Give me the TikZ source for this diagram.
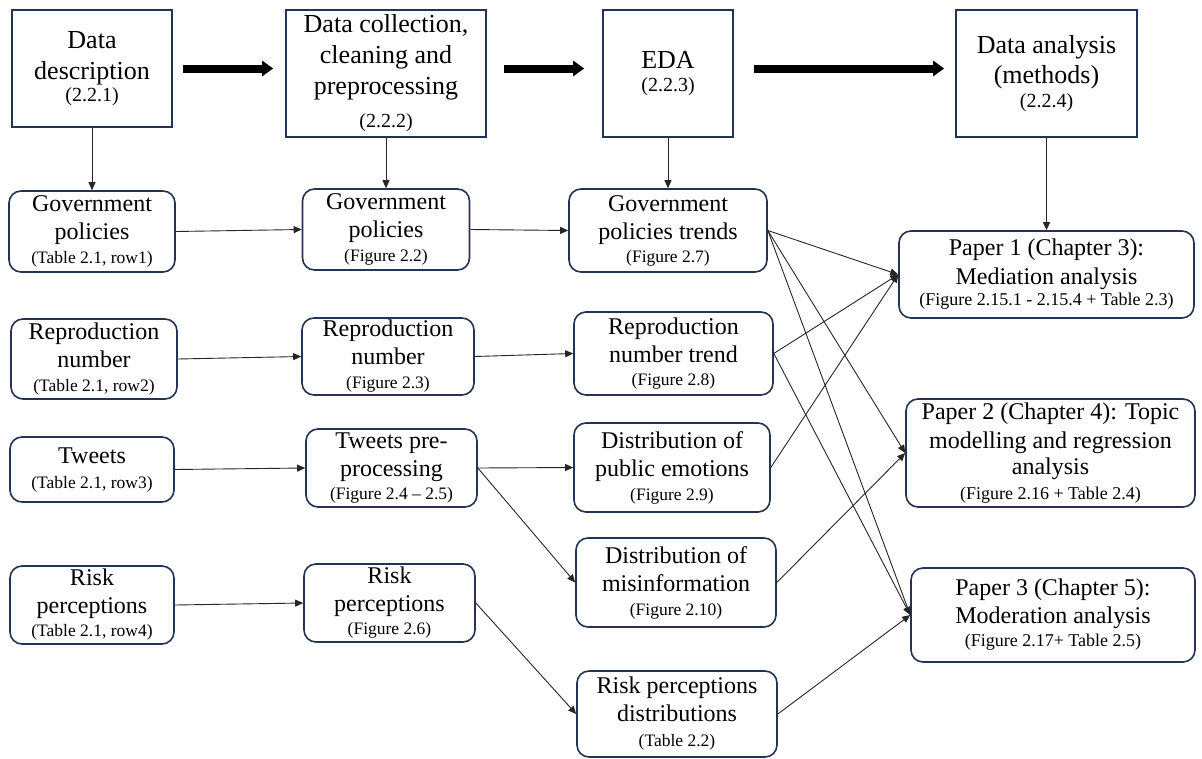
\documentclass[tikz,border=0pt]{standalone}
\usepackage{fontspec}
\setmainfont{Liberation Serif}
\usetikzlibrary{arrows.meta}
\definecolor{boxline}{HTML}{243352}
\definecolor{wirecol}{HTML}{262626}

% font sizes (1pt = 1 output pixel)
\newcommand\topfont{\fontsize{26}{31}\selectfont}
\newcommand\topsub{\fontsize{20}{22}\selectfont}
\newcommand\rowfont{\fontsize{24}{28}\selectfont}
\newcommand\rowsub{\fontsize{17.5}{20}\selectfont}
\newcommand\papersub{\fontsize{18}{20}\selectfont}

\begin{document}
\begin{tikzpicture}[x=1pt,y=-1pt,
  stage/.style={draw=boxline, line width=1.6pt, fill=white, inner sep=0pt,
                align=center, font=\topfont},
  item/.style={draw=boxline, line width=1.6pt, rounded corners=12pt, fill=white,
               inner sep=0pt, align=center, font=\rowfont},
  sz/.style 2 args={minimum width=#1pt, minimum height=#2pt},
  wire/.style={draw=wirecol, line width=0.9pt, -{Triangle[length=8pt,width=7pt]}},
  bigarrow/.style={draw=black, line width=8pt, -{Triangle[length=11pt,width=15pt]}}
]
\fill[white] (0,0) rectangle (1202,758);
\useasboundingbox (0,0) rectangle (1202,758);

% stages of the workflow
\node[stage, sz={160}{117}] (dd)  at (92,68.5)    {Data\\description\\[-9pt]{\topsub (2.2.1)}};
\node[stage, sz={200}{127}] (dc)  at (386,73.5)   {Data collection,\\cleaning and\\preprocessing\\[2pt]{\topsub (2.2.2)}};
\node[stage, sz={130}{127}] (eda) at (668,73.5)   {EDA\\[-8pt]{\topsub (2.2.3)}};
\node[stage, sz={181}{127}] (da)  at (1046.5,73.5) {Data analysis\\[-1pt](methods)\\[-7pt]{\topsub (2.2.4)}};

% data sources
\node[item, sz={166}{81}] (gp1) at (92,231.5)  {Government\\policies\\[-4pt]{\rowsub (Table 2.1, row1)}};
\node[item, sz={166}{80}] (rn1) at (94,359)    {Reproduction\\number\\[-4pt]{\rowsub (Table 2.1, row2)}};
\node[item, sz={164}{65}] (tw1) at (92,469.5)  {Tweets\\[-3pt]{\rowsub (Table 2.1, row3)}};
\node[item, sz={164}{78}] (rp1) at (92,605)    {Risk\\perceptions\\[-5pt]{\rowsub (Table 2.1, row4)}};

% cleaned data
\node[item, sz={167}{81}] (gp2) at (386,229.5)   {Government\\policies\\[-4pt]{\rowsub (Figure 2.2)}};
\node[item, sz={172}{77}] (rn2) at (388,356.5)   {Reproduction\\number\\[-4pt]{\rowsub (Figure 2.3)}};
\node[item, sz={171}{78}] (tw2) at (391.5,468)   {Tweets pre-\\processing\\[-5pt]{\rowsub (Figure 2.4 -- 2.5)}};
\node[item, sz={171}{78}] (rp2) at (389.5,603)   {Risk\\perceptions\\[-5pt]{\rowsub (Figure 2.6)}};

% exploratory analysis
\node[item, sz={198}{83}] (gtr) at (668,230.5)   {Government\\policies trends\\[-5pt]{\rowsub (Figure 2.7)}};
\node[item, sz={199}{83}] (rtr) at (673.5,353.5) {Reproduction\\number trend\\[-5pt]{\rowsub (Figure 2.8)}};
\node[item, sz={196}{89}] (emo) at (672,467.5)   {Distribution of\\public emotions\\[-4pt]{\rowsub (Figure 2.9)}};
\node[item, sz={200}{89}] (mis) at (676,582.5)   {Distribution of\\misinformation\\[-4pt]{\rowsub (Figure 2.10)}};
\node[item, sz={200}{86}] (rpd) at (677,714)     {Risk perceptions\\distributions\\[-3pt]{\rowsub (Table 2.2)}};

% papers
\node[item, sz={295}{87}]  (p1) at (1046.5,274.5) {Paper 1 (Chapter 3):\\[1pt]Mediation analysis\\[-7pt]{\papersub (Figure 2.15.1 - 2.15.4 + Table 2.3)}};
\node[item, sz={289}{108}] (p2) at (1050.5,453)   {Paper 2 (Chapter 4): Topic\\[1pt]modelling and regression\\[-2pt]analysis\\[-3pt]{\papersub (Figure 2.16 + Table 2.4)}};
\node[item, sz={284}{94}]  (p3) at (1053,615)     {Paper 3 (Chapter 5):\\Moderation analysis\\[-5pt]{\papersub (Figure 2.17+ Table 2.5)}};

% main flow
\draw[bigarrow, shorten <=10pt, shorten >=12pt] (dd.east) -- (dd.east -| dc.west);
\draw[bigarrow, shorten <=17pt, shorten >=18pt] (dd.east -| dc.east) -- (dd.east -| eda.west);
\draw[bigarrow, shorten <=20pt, shorten >=11pt] (dd.east -| eda.east) -- (dd.east -| da.west);

% stage to first item
\draw[wire] (dd) -- (gp1);
\draw[wire] (dc) -- (gp2);
\draw[wire] (eda) -- (gtr);
\draw[wire] (da) -- (p1);

% sources to cleaned data
\draw[wire] (gp1.east) -- (gp2.west);
\draw[wire] (rn1.east) -- (rn2.west);
\draw[wire] (tw1.east) -- (tw2.west);
\draw[wire] (rp1.east) -- (rp2.west);

% cleaned data to exploratory analysis
\draw[wire] (gp2.east) -- (gtr.west);
\draw[wire] (rn2.east) -- (rtr.west);
\draw[wire] (tw2.east) -- (emo.west);
\draw[wire] (tw2.east) -- (mis.west);
\draw[wire] (rp2.east) -- (rpd.west);

% exploratory analysis to papers
\draw[wire] (gtr.east) -- (p1.west);
\draw[wire] (gtr.east) -- (p2.west);
\draw[wire] (gtr.east) -- (p3.west);
\draw[wire] (rtr.east) -- (p1.west);
\draw[wire] (rtr.east) -- (p3.west);
\draw[wire] (emo.east) -- (p1.west);
\draw[wire] (mis.east) -- (p2.west);
\draw[wire] (rpd.east) -- (p3.west);
\end{tikzpicture}
\end{document}
